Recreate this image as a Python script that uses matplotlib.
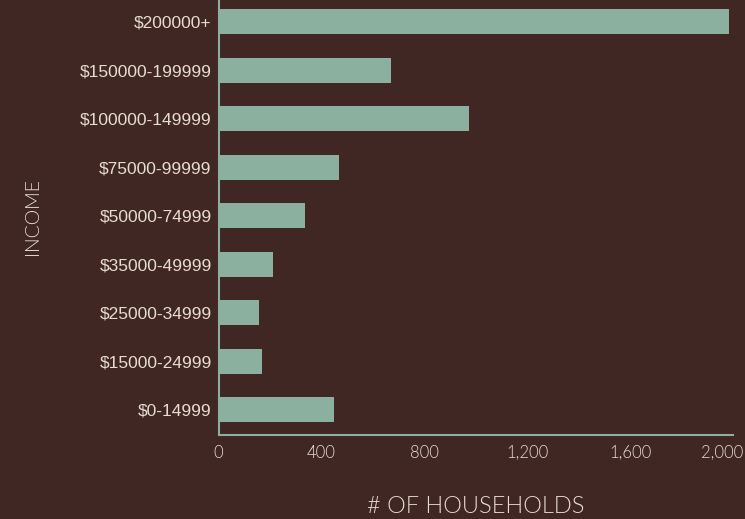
import matplotlib
matplotlib.use("Agg")
import matplotlib.pyplot as plt
from matplotlib.transforms import ScaledTranslation

categories = ["$0-14999", "$15000-24999", "$25000-34999", "$35000-49999",
              "$50000-74999", "$75000-99999", "$100000-149999",
              "$150000-199999", "$200000+"]
households = [449, 169, 157, 212, 336, 468, 974, 671, 1984]
xticks = [0, 400, 800, 1200, 1600, 2000]
xtick_labels = ["0", "400", "800", "1,200", "1,600", "2,000"]

bg = "#402723"
bar_color = "#8bb0a0"
text_color = "#e6ddcf"

fig = plt.figure(figsize=(7.45, 5.19), dpi=100, facecolor=bg)
ax = fig.add_axes([0.2933, 0.1618, 0.6907, 0.8382], facecolor=bg)
y = list(range(len(categories)))
ax.barh(y, households, height=0.52, color=bar_color)
ax.set_ylim(-0.52, 8.45)
ax.set_xlim(0, 2000)
ax.set_yticks(y)
ax.set_yticklabels(categories, fontsize=12.5, color=text_color, family="Liberation Sans")
ax.set_xticks(xticks)
ax.set_xticklabels(xtick_labels, fontsize=12, color=text_color, family="Lato", fontweight=300)
ax.tick_params(axis="both", length=0)
ax.tick_params(axis="y", pad=5)
ax.tick_params(axis="x", pad=7)
for s in ["top", "right"]:
    ax.spines[s].set_visible(False)
for s in ["left", "bottom"]:
    ax.spines[s].set_color(bar_color)
    ax.spines[s].set_linewidth(1.5)

# keep the last tick label inside the canvas, as in the reference
last = ax.get_xticklabels()[-1]
last.set_transform(last.get_transform() + ScaledTranslation(-11 / 100, 0, fig.dpi_scale_trans))

fig.text(0.043, 0.583, "INCOME", rotation=90, ha="center", va="center",
         fontsize=14, color=text_color, family="Lato", fontweight=300)
fig.text(0.638, 0.025, "# OF HOUSEHOLDS", ha="center", va="center",
         fontsize=17, color=text_color, family="Lato", fontweight=300)

fig.savefig("out.png", dpi=100, facecolor=bg)
